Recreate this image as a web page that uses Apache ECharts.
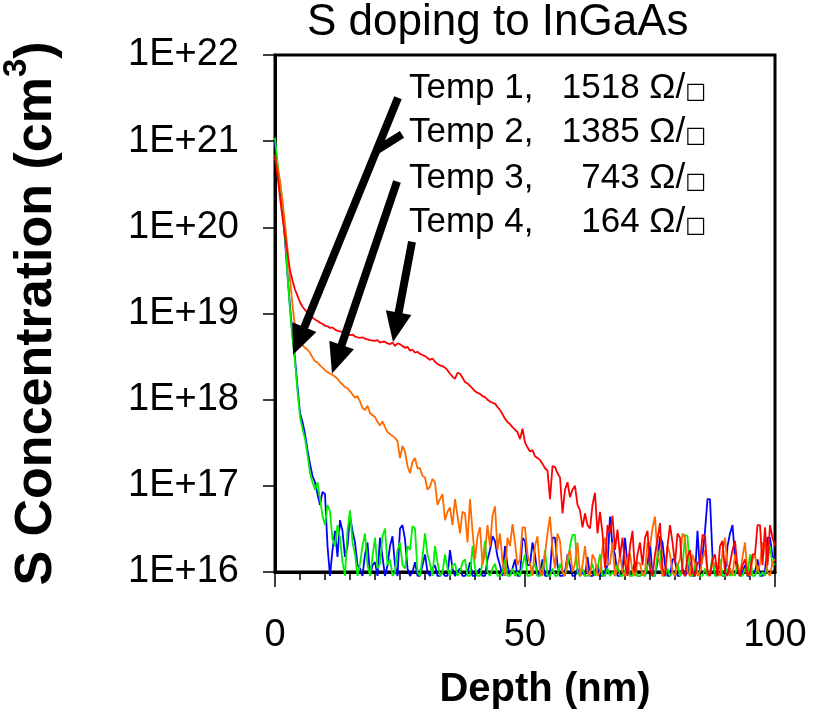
<!DOCTYPE html>
<html>
<head>
<meta charset="utf-8">
<script src="https://cdn.jsdelivr.net/npm/echarts@6/dist/echarts.min.js"></script>
<style>html,body{margin:0;padding:0;background:#fff}#c{width:823px;height:724px}</style>
</head>
<body>
<div id="c"></div>
<script>
const depth = [
0,0.5,1,1.5,2,2.5,3,3.5,4,4.5,
5,5.5,6,6.5,7,7.5,8,8.5,9,9.5,
10,10.5,11,11.5,12,12.5,13,13.5,14,14.5,
15,15.5,16,16.5,17,17.5,18,18.5,19,19.5,
20,20.5,21,21.5,22,22.5,23,23.5,24,24.5,
25,25.5,26,26.5,27,27.5,28,28.5,29,29.5,
30,30.5,31,31.5,32,32.5,33,33.5,34,34.5,
35,35.5,36,36.5,37,37.5,38,38.5,39,39.5,
40,40.5,41,41.5,42,42.5,43,43.5,44,44.5,
45,45.5,46,46.5,47,47.5,48,48.5,49,49.5,
50,50.5,51,51.5,52,52.5,53,53.5,54,54.5,
55,55.5,56,56.5,57,57.5,58,58.5,59,59.5,
60,60.5,61,61.5,62,62.5,63,63.5,64,64.5,
65,65.5,66,66.5,67,67.5,68,68.5,69,69.5,
70,70.5,71,71.5,72,72.5,73,73.5,74,74.5,
75,75.5,76,76.5,77,77.5,78,78.5,79,79.5,
80,80.5,81,81.5,82,82.5,83,83.5,84,84.5,
85,85.5,86,86.5,87,87.5,88,88.5,89,89.5,
90,90.5,91,91.5,92,92.5,93,93.5,94,94.5,
95,95.5,96,96.5,97,97.5,98,98.5,99,99.5,
100];

const temp1Blue = [
1e21,5e20,2.8e20,1.7e20,7e19,2.8e19,1.2e19,5.6e18,3e18,1.4e18,
7e17,5.5e17,4e17,2.6e17,1.8e17,1.3e17,1.1e17,8e16,6e16,8.5e16,
8e16,2e16,9e15,1.8e16,3e16,1.5e16,4e16,3e16,1.5e16,2e16,
4.5e16,3e16,2.2e16,1.2e16,1.1e16,9e15,1.6e16,2.2e16,9e15,1.2e16,
1.3e16,9e15,2.5e16,1.5e16,9e15,1.2e16,2e16,2.6e16,1.2e16,9e15,
3.2e16,3.5e16,2.4e16,1.1e16,9e15,1e16,1.3e16,9e15,9e15,1.2e16,
1.6e16,1e16,9e15,1.1e16,1.2e16,9e15,9e15,1e16,9e15,9e15,
1.8e16,1.1e16,9e15,1e16,1.1e16,9e15,9e15,1e16,1.3e16,9e15,
9e15,1e16,1.1e16,9e15,9e15,1.4e16,1.8e16,2.6e16,2.3e16,1.5e16,
1.2e16,9e15,2e16,1.2e16,9e15,1.1e16,1.4e16,9e15,9e15,2.5e16,
2.3e16,1.2e16,1.2e16,2.2e16,1.6e16,9e15,1e16,1.4e16,9e15,9e15,
1e16,2.5e16,2.5e16,1.2e16,9e15,9e15,1e16,1.6e16,1.2e16,9e15,
9e15,1.1e16,9e15,1e16,9e15,1.5e16,9e15,9e15,1e16,1.2e16,
9e15,9e15,1e16,1.2e16,4.4e16,2e16,1.6e16,9e15,9e15,1e16,
2.5e16,1.2e16,9e15,1e16,1.3e16,9e15,9e15,1e16,9e15,1.2e16,
2.2e16,9e15,9e15,1.3e16,2.6e16,2.2e16,1.2e16,9e15,9e15,1.4e16,
1.4e16,9e15,9e15,1.1e16,9e15,1e16,1.3e16,9e15,9e15,3e16,
1e16,1.5e16,3e16,7e16,7e16,1.5e16,9e15,1e16,1.2e16,9e15,
9e15,2e16,2.8e16,3.5e16,1.5e16,1e16,9e15,1e16,1.2e16,9e15,
9e15,1e16,1e16,1.4e16,9e15,9e15,1e16,2.5e16,2.5e16,1.5e16,
1.5e16];

const temp2Green = [
1.1e21,5.6e20,3.2e20,2e20,7.8e19,2.8e19,1.1e19,5.2e18,2.8e18,1.26e18,
6.3e17,4.6e17,3.5e17,2.3e17,1.4e17,1.1e17,9e16,1.1e17,7e16,4.5e16,
3.5e16,6e16,5e16,2.4e16,2e16,3.5e16,2.5e16,1.3e16,9e15,3e16,
5.2e16,2.2e16,1.6e16,9e15,1.25e16,2e16,2.8e16,1.2e16,9e15,1.5e16,
2.5e16,1.1e16,1.25e16,2.6e16,3.2e16,1.2e16,1.4e16,9e15,1e16,1.8e16,
2.2e16,1.2e16,1.1e16,2e16,1.8e16,3.4e16,3.2e16,1e16,9e15,1.5e16,
2.8e16,1.6e16,1.25e16,9e15,2e16,1.3e16,9e15,1e16,1.6e16,1.1e16,
9e15,1.2e16,1.25e16,9e15,1e16,1.3e16,1.4e16,9e15,9e15,2e16,
1.1e16,9e15,9e15,1.3e16,2.3e16,1e16,9e15,1.1e16,1.25e16,9e15,
9e15,1e16,1.4e16,9e15,9e15,1.1e16,9e15,1e16,9e15,1.2e16,
1.6e16,9e15,9e15,1.1e16,1.25e16,9e15,9e15,1e16,1.8e16,9e15,
9e15,1.1e16,9e15,9e15,1.25e16,1e16,9e15,1.2e16,2e16,2.7e16,
2.7e16,1e16,9e15,1.1e16,9e15,9e15,1e16,1.25e16,9e15,1.1e16,
1.6e16,9e15,9e15,1.1e16,9e15,1e16,9e15,1.25e16,9e15,9e15,
1e16,1.4e16,9e15,9e15,1.1e16,9e15,9e15,1e16,9e15,1.2e16,
1.25e16,9e15,9e15,1.6e16,1.8e16,9e15,9e15,1.1e16,9e15,1e16,
9e15,1.25e16,9e15,1.1e16,2.7e16,2.6e16,9e15,9e15,1.25e16,1e16,
9e15,9e15,1.1e16,9e15,1e16,1.5e16,9e15,9e15,1.4e16,9e15,
9e15,1.1e16,9e15,1e16,9e15,1.25e16,9e15,9e15,1.1e16,9e15,
1.6e16,9e15,9e15,1.1e16,9e15,1e16,9e15,1.3e16,2e16,1.2e16,
1.25e16];

const temp3Orange = [
6.3e20,5e20,3.5e20,2e20,1.1e20,5.6e19,2.5e19,1.26e19,7e18,5e18,
4.6e18,4.3e18,4e18,3.8e18,3.5e18,3.1e18,2.8e18,2.7e18,2.5e18,2.35e18,
2.2e18,2.1e18,2e18,1.95e18,1.85e18,1.75e18,1.6e18,1.5e18,1.4e18,1.35e18,
1.26e18,1.15e18,1.05e18,1.1e18,9.5e17,8e17,7.6e17,8.5e17,7e17,6.6e17,
6.3e17,5.5e17,5e17,5.6e17,4.8e17,4.2e17,4e17,3.8e17,3.6e17,3.3e17,
2.1e17,2.9e17,2.5e17,1.7e17,1.4e17,1.9e17,2.1e17,1.6e17,1.6e17,1.3e17,
1.25e17,9e16,9.8e16,1.2e17,1.1e17,6e16,7e16,8e16,4e16,5e16,
5.6e16,3.5e16,7e16,4.5e16,2.8e16,5e16,4.8e16,2.2e16,7e16,3e16,
1.4e16,2.6e16,3.3e16,1.2e16,1.65e16,3.5e16,2e16,4.5e16,5.8e16,1.8e16,
2.8e16,1.3e16,9e15,2.5e16,2e16,3.6e16,2.2e16,1.2e16,1.4e16,3.3e16,
3.3e16,1.6e16,1.25e16,9e15,2e16,2.6e16,1e16,9e15,1.6e16,2.8e16,
4.4e16,1.8e16,1.1e16,2.8e16,2.3e16,1e16,9e15,1.5e16,1.8e16,1e16,
1.25e16,2.2e16,9e15,1.2e16,2e16,1e16,9e15,1.6e16,1.4e16,9e15,
1e16,1.9e16,2.5e16,1.2e16,1.25e16,2.2e16,9e15,1.1e16,1.6e16,1e16,
9e15,1.5e16,1.65e16,1e16,9e15,1.3e16,1.25e16,9e15,1e16,2.2e16,
2e16,3.2e16,4.4e16,1.6e16,1.25e16,9e15,1e16,2e16,1.6e16,1e16,
9e15,1.2e16,1.4e16,2.8e16,2.5e16,1e16,9e15,1.6e16,1.25e16,9e15,
1e16,1.4e16,1.8e16,1e16,9e15,1.3e16,1.25e16,1e16,9e15,1.7e16,
2.5e16,1.2e16,1.1e16,9e15,1.6e16,1.2e16,9e15,1.5e16,2.2e16,1e16,
9e15,1.4e16,1.6e16,1e16,1.25e16,2.2e16,2e16,1e16,9e15,1.3e16,
1.4e16];

const temp4Red = [
7e20,4e20,2.2e20,1.3e20,8e19,5e19,3.2e19,2.4e19,1.9e19,1.6e19,
1.35e19,1.2e19,1.1e19,1.02e19,9.5e18,9e18,8.5e18,8.2e18,7.8e18,7.6e18,
7.2e18,7.1e18,6.8e18,6.9e18,6.5e18,6.3e18,6.2e18,6.1e18,5.9e18,5.8e18,
5.6e18,5.7e18,5.4e18,5.3e18,5.2e18,5.3e18,5.1e18,5e18,4.9e18,4.85e18,
4.8e18,4.9e18,4.6e18,4.7e18,4.7e18,4.5e18,4.4e18,4.6e18,4.2e18,4.5e18,
4.4e18,4.2e18,4e18,4.1e18,3.7e18,3.8e18,3.5e18,3.6e18,3.4e18,3.3e18,
3.2e18,3.05e18,2.9e18,3e18,2.75e18,2.6e18,2.5e18,2.45e18,2.35e18,2.2e18,
2e18,1.85e18,1.75e18,2.05e18,2e18,1.8e18,1.6e18,1.55e18,1.45e18,1.35e18,
1.25e18,1.2e18,1.17e18,1.1e18,1.07e18,1e18,9.5e17,9.2e17,9e17,8.2e17,
7.6e17,6.8e17,6e17,5.5e17,5.2e17,4.8e17,4.5e17,4.2e17,3.5e17,4.6e17,
3.2e17,2.8e17,2.5e17,2.6e17,2.2e17,2.1e17,2e17,1.8e17,1.6e17,1.5e17,
7e16,1.7e17,1.65e17,1.4e17,1.25e17,4.8e16,9e16,1.1e17,7.4e16,9e16,
1e17,6e16,5.2e16,3.3e16,4.8e16,3.5e16,3.2e16,6e16,8.3e16,2.8e16,
5e16,2.8e16,1.1e16,3.5e16,2.8e16,4.5e16,1.8e16,3.1e16,1.5e16,2.5e16,
1.25e16,9e15,2e16,3e16,1e16,1.6e16,2.2e16,1.2e16,2.5e16,3e16,
1.1e16,9e15,1.6e16,2.4e16,3.7e16,1.1e16,9e15,2e16,3.5e16,2.2e16,
1.25e16,2.8e16,2.5e16,1e16,9e15,1.5e16,1.8e16,1e16,9e15,1.3e16,
1.25e16,2.7e16,2.6e16,1e16,9e15,1.4e16,1.6e16,9e15,2e16,2.3e16,
1e16,9e15,1.25e16,1.8e16,2.3e16,1.1e16,9e15,1.2e16,1.4e16,9e15,
1e16,1.6e16,1.6e16,3.5e16,3.5e16,1.2e16,3.3e16,1.2e16,3.5e16,2.5e16,
2e16];

const xTicks = [0, 50, 100];
const seriesNames = ['Temp 1', 'Temp 2', 'Temp 3', 'Temp 4'];
const sheetRes = ['1518', '1385', '743', '164'];

const FONT = '"Liberation Sans", Arial, sans-serif';
const pair = (ys) => depth.map((d, i) => [d, ys[i]]);

const chart = echarts.init(document.getElementById('c'), null, {renderer: 'canvas'});

const lineSeries = (name, ys, color) => ({
  name, type: 'line', data: pair(ys), showSymbol: false, symbol: 'none', clip: false,
  lineStyle: {color, width: 1.8}, itemStyle: {color}, silent: true, animation: false
});

const graphics = [];
const rowY = [88, 132, 178, 222];
seriesNames.forEach((n, i) => {
  graphics.push({type: 'text', x: 409, y: rowY[i], silent: true,
    style: {text: n + ',', fontSize: 35, fontFamily: FONT, fill: '#000', textVerticalAlign: 'middle', textAlign: 'left'}});
  graphics.push({type: 'text', x: 706, y: rowY[i], silent: true,
    style: {text: '{v|' + sheetRes[i] + ' Ω/}{s|□}', textVerticalAlign: 'middle', textAlign: 'right',
      rich: {v: {fontSize: 35, fontFamily: FONT, fill: '#000', color: '#000'},
             s: {fontSize: 22, fontFamily: '"DejaVu Sans", sans-serif', color: '#000', fill: '#000', verticalAlign: 'bottom', padding: [0,0,2,0]}}}});
});

chart.setOption({
  animation: false,
  backgroundColor: '#fff',
  title: {text: 'S doping to InGaAs', left: 307, top: 1, padding: 0,
    textStyle: {fontFamily: FONT, fontSize: 44, fontWeight: 'normal', color: '#000'}},
  grid: {left: 275, right: 48, top: 55, bottom: 152, show: true, borderColor: '#000', borderWidth: 3,
    containLabel: false, outerBoundsMode: 'none'},
  xAxis: {
    type: 'value', min: 0, max: 100, interval: 50,
    name: 'Depth (nm)', nameLocation: 'middle', nameGap: 98,
    nameTextStyle: {fontFamily: FONT, fontSize: 40, fontWeight: 'bold', color: '#000', padding: [0, 0, 0, 40]},
    axisLine: {show: true, onZero: false, lineStyle: {color: '#000', width: 3}},
    axisTick: {show: true, inside: false, length: 15, lineStyle: {color: '#000', width: 1.5}},
    minorTick: {show: true, splitNumber: 10, length: 8, lineStyle: {color: '#000', width: 1.5}},
    splitLine: {show: false},
    axisLabel: {margin: 45, fontFamily: FONT, fontSize: 38, color: '#000',
      formatter: (v) => xTicks.indexOf(v) >= 0 ? String(v) : ''}
  },
  yAxis: {
    type: 'log', logBase: 10, min: 1e16, max: 1e22,
    name: 'S Concentration (cm{sup|3})', nameLocation: 'middle', nameGap: 201, nameRotate: 90,
    nameTextStyle: {fontFamily: FONT, fontSize: 52, fontWeight: 'bold', color: '#000', lineHeight: 74,
      rich: {sup: {fontFamily: FONT, fontSize: 33, fontWeight: 'bold', color: '#000', verticalAlign: 'top', lineHeight: 33}}},
    axisLine: {show: true, lineStyle: {color: '#000', width: 3}},
    axisTick: {show: true, inside: false, length: 12, lineStyle: {color: '#000', width: 1.5}},
    splitLine: {show: false},
    axisLabel: {margin: 36, fontFamily: FONT, fontSize: 38, color: '#000',
      formatter: (v) => '1E+' + Math.round(Math.log10(v))}
  },
  graphic: graphics,
  series: [
    lineSeries(seriesNames[0], temp1Blue, '#0000ff'),
    lineSeries(seriesNames[1], temp2Green, '#00f000'),
    lineSeries(seriesNames[2], temp3Orange, '#ff6a00'),
    lineSeries(seriesNames[3], temp4Red, '#ff0000'),
    {
      name: 'arrows', type: 'line', data: [], silent: true, animation: false,
      markLine: {
        silent: true, animation: false,
        symbol: ['none', 'triangle'], symbolSize: [26, 30],
        label: {show: false},
        lineStyle: {color: '#000', width: 8, type: 'solid'},
        itemStyle: {color: '#000'},
        emphasis: {disabled: true},
        data: [
          [{coord: [24.6, 3.2e21]}, {coord: [4.74, 4.8e18]}],
          [{coord: [25.4, 1.2e21], symbol: 'none'}, {coord: [20.4, 7.9e20], symbol: 'none'}],
          [{coord: [24.4, 3.4e20]}, {coord: [12.36, 2.95e18]}],
          [{coord: [27.4, 6.8e19]}, {coord: [24.16, 6.9e18]}]
        ]
      }
    }
  ]
});
</script>
</body>
</html>
